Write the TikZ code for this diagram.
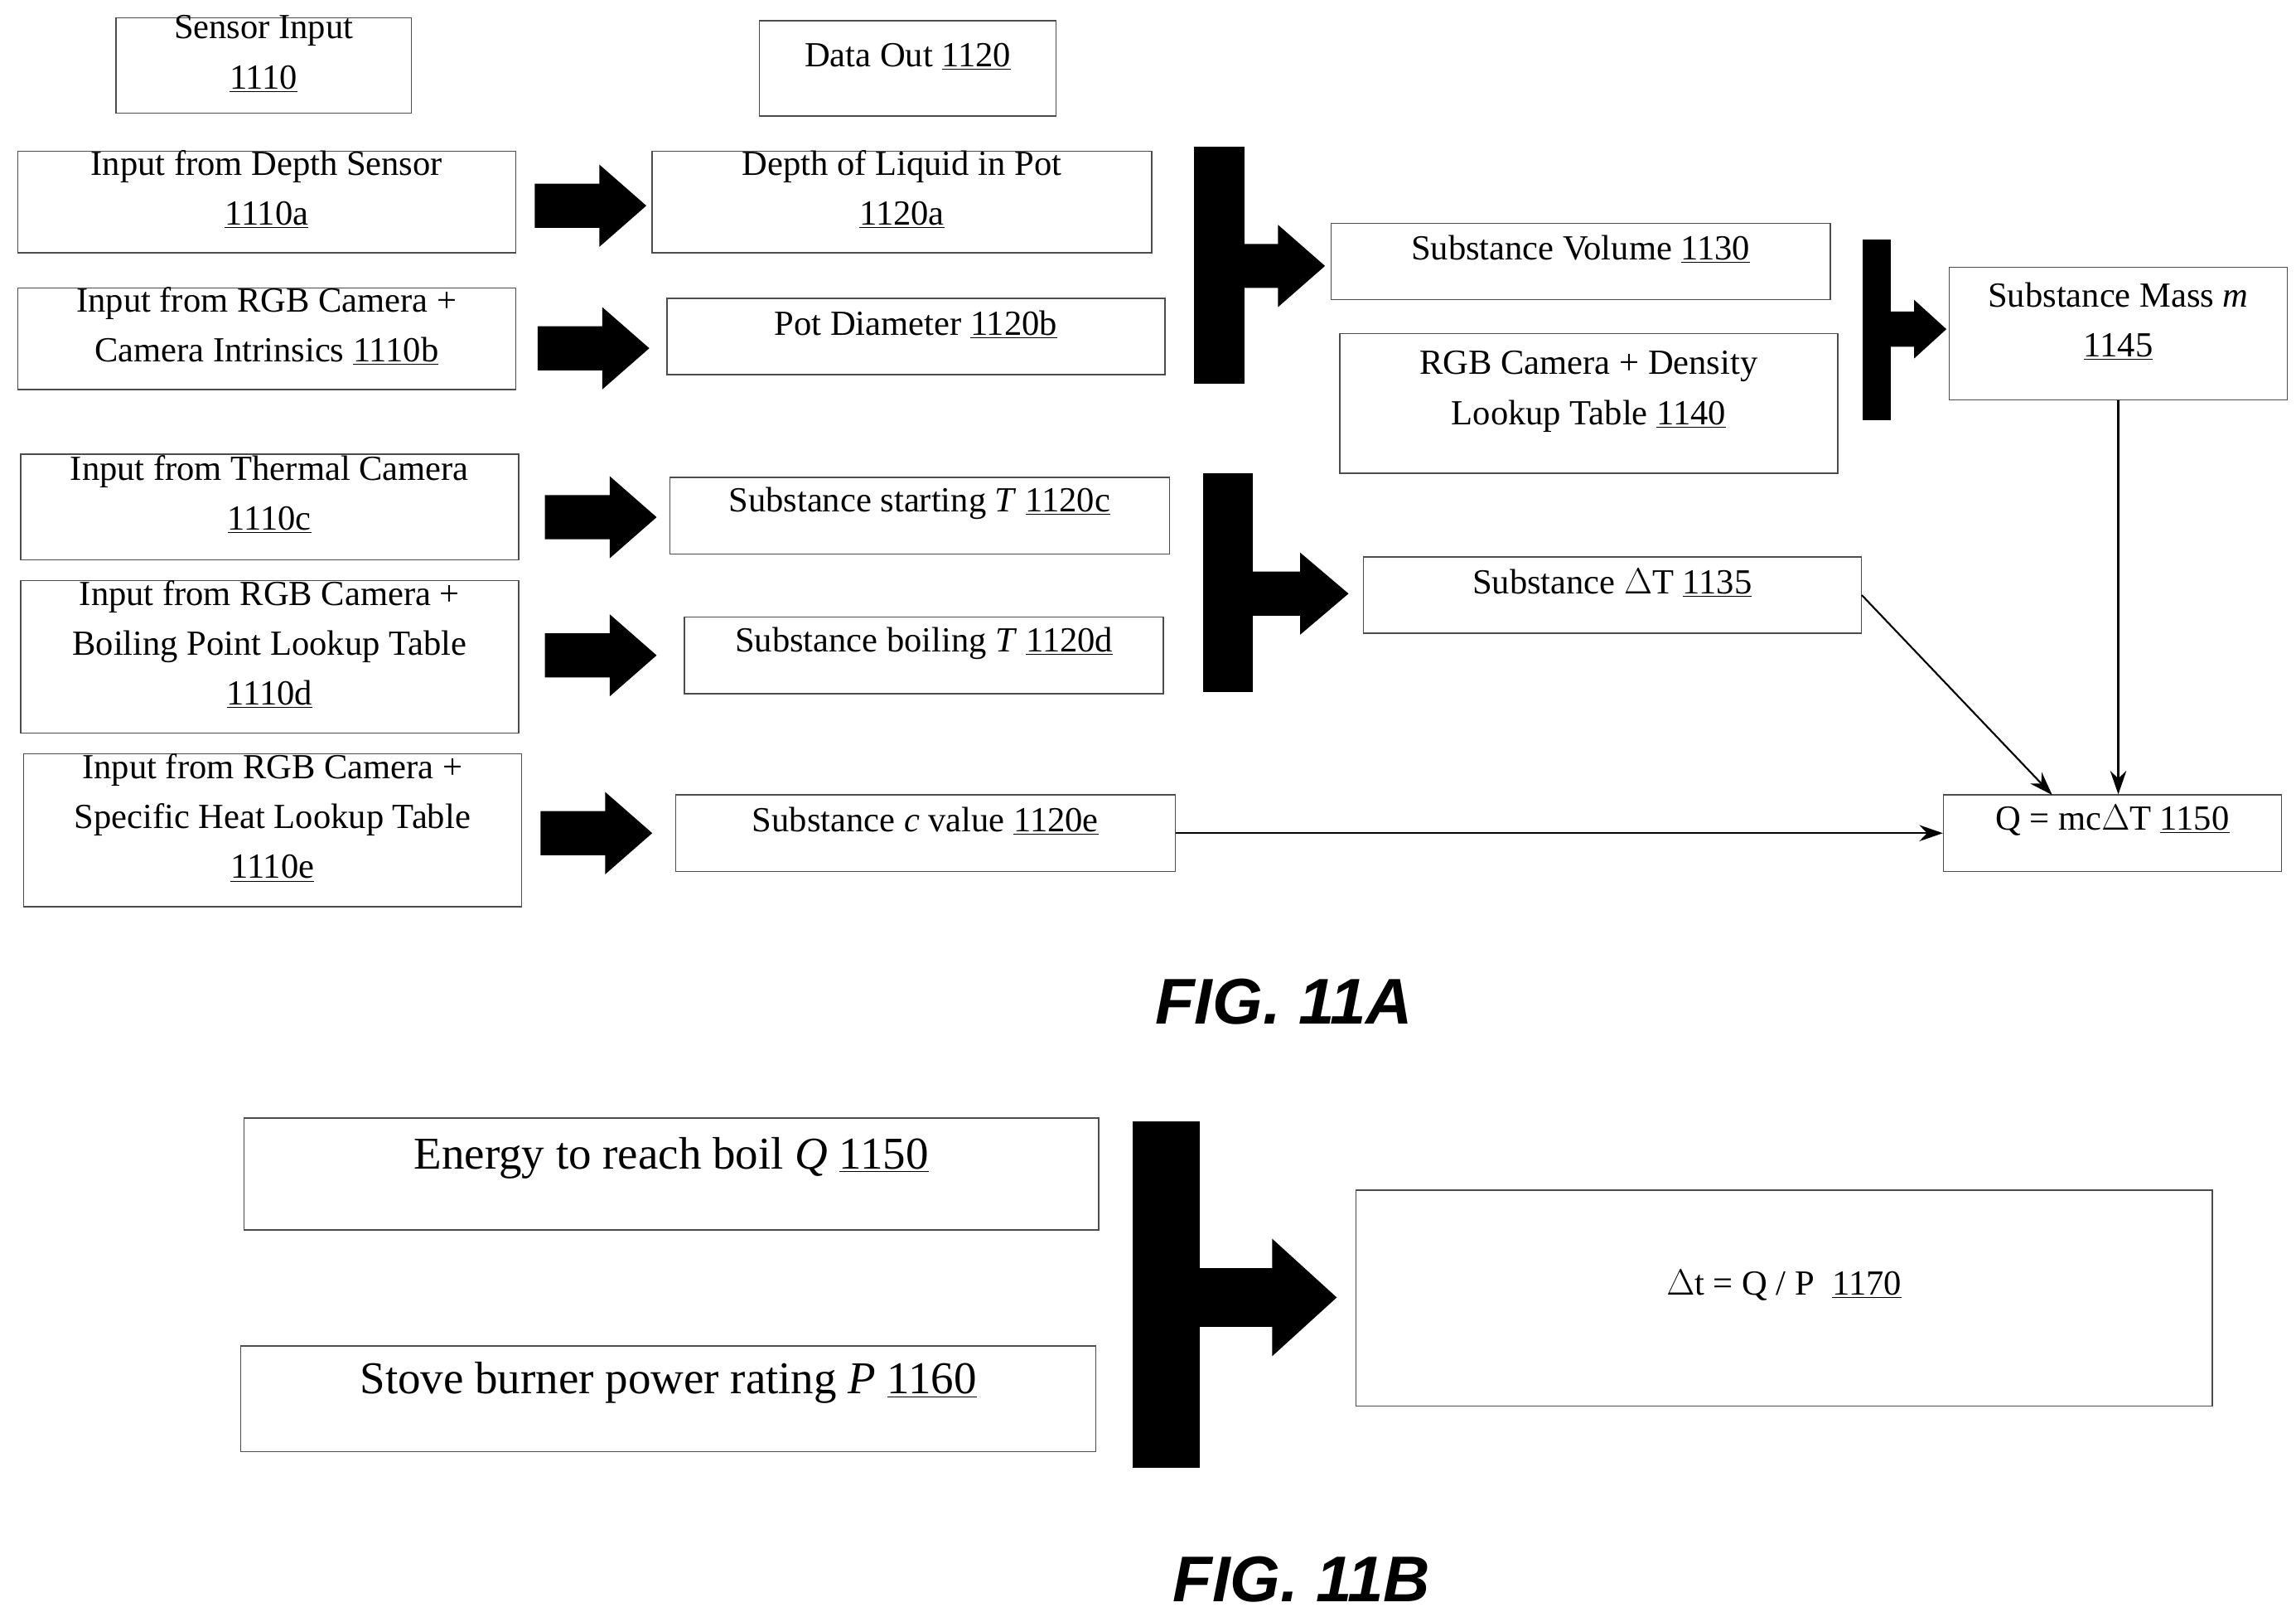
\documentclass[tikz,border=0pt]{standalone}
\usepackage{fontspec}
\setmainfont{Liberation Serif}
\newfontfamily\capfont{Liberation Sans}
\usetikzlibrary{fit,arrows.meta}
\newcommand\blkarrow[6]{\fill (#1,#3-#4) -- (#6,#3-#4) -- (#6,#3-#5) -- (#2,#3) -- (#6,#3+#5) -- (#6,#3+#4) -- (#1,#3+#4) -- cycle;}
\begin{document}
\begin{tikzpicture}[x=1pt,y=-1pt,
 box/.style={draw=black!70,line width=0.8pt,inner sep=0pt,align=center,font=\fontsize{24}{34}\selectfont},
 bigbox/.style={box,font=\fontsize{31}{40}\selectfont},
 con/.style={line width=1.2pt,-{Stealth[length=16pt,width=11pt]}},
 figcap/.style={font=\capfont\bfseries\itshape\fontsize{44}{50}\selectfont}]
\useasboundingbox (0,0) rectangle (1563,1100);
\node[box,fit={(79,12)(280,77)}] (si) {Sensor Input\\\underline{1110}};
\node[box,fit={(517,14)(719,79)}] (do) {Data Out \underline{1120}};
\node[box,fit={(12,103)(351,172)}] (a1) {Input from Depth Sensor\\\underline{1110a}};
\node[box,fit={(444,103)(784,172)}] (b1) {Depth of Liquid in Pot\\\underline{1120a}};
\node[box,fit={(12,196)(351,265)}] (a2) {Input from RGB Camera +\\Camera Intrinsics \underline{1110b}};
\node[box,fit={(454,203)(793,255)}] (b2) {Pot Diameter \underline{1120b}};
\node[box,fit={(14,309)(353,381)}] (a3) {Input from Thermal Camera\\\underline{1110c}};
\node[box,fit={(456,325)(796,377)}] (b3) {Substance starting \textit{T} \underline{1120c}};
\node[box,fit={(14,395)(353,499)}] (a4) {Input from RGB Camera +\\Boiling Point Lookup Table\\\underline{1110d}};
\node[box,fit={(466,420)(792,472)}] (b4) {Substance boiling \textit{T} \underline{1120d}};
\node[box,fit={(16,513)(355,617)}] (a5) {Input from RGB Camera +\\Specific Heat Lookup Table\\\underline{1110e}};
\node[box,fit={(460,541)(800,593)}] (b5) {Substance \textit{c} value \underline{1120e}};
\node[box,fit={(906,152)(1246,204)}] (vol) {Substance Volume \underline{1130}};
\node[box,fit={(912,227)(1251,322)}] (den) {RGB Camera + Density\\Lookup Table \underline{1140}};
\node[box,fit={(1327,182)(1557,272)}] (mass) {Substance Mass \textit{m}\\\underline{1145}};
\node[box,fit={(928,379)(1267,431)}] (dT) {Substance $\Delta$T \underline{1135}};
\node[box,fit={(1323,541)(1553,593)}] (Q) {Q = mc$\Delta$T \underline{1150}};
\node[bigbox,fit={(166,761)(748,837)}] (e) {Energy to reach boil \textit{Q} \underline{1150}};
\node[bigbox,fit={(164,916)(746,988)}] (p) {Stove burner power rating \textit{P} \underline{1160}};
\node[box,fit={(923,810)(1506,957)}] (dt) {$\Delta$t = Q / P\ \ \underline{1170}};
\node[figcap] (c1) at (874,682) {FIG. 11A};
\node[figcap] (c2) at (886,1075) {FIG. 11B};
% block arrows
\blkarrow{364}{440}{140}{15}{28}{408}
\blkarrow{366}{442}{237}{15}{28}{410}
\blkarrow{371}{447}{352}{15}{28}{415}
\blkarrow{371}{447}{446}{15}{28}{415}
\blkarrow{368}{444}{567}{15}{28}{412}
% T shapes
\fill (813,100) rectangle (847,261);
\blkarrow{846}{902}{181}{15}{28}{870}
\fill (1268,163) rectangle (1287,286);
\blkarrow{1286}{1325}{224}{12}{20}{1303}
\fill (819,322) rectangle (853,471);
\blkarrow{852}{918}{404}{15}{28}{885}
\fill (771,763) rectangle (817,999);
\blkarrow{816}{910}{883}{20}{40}{866}
% connectors
\draw[con] (b5.east) -- (Q.west);
\draw[con] (dT.east) -- (1397,541);
\draw[con] (mass.south) -- (Q.north -| mass.south);
\end{tikzpicture}
\end{document}
